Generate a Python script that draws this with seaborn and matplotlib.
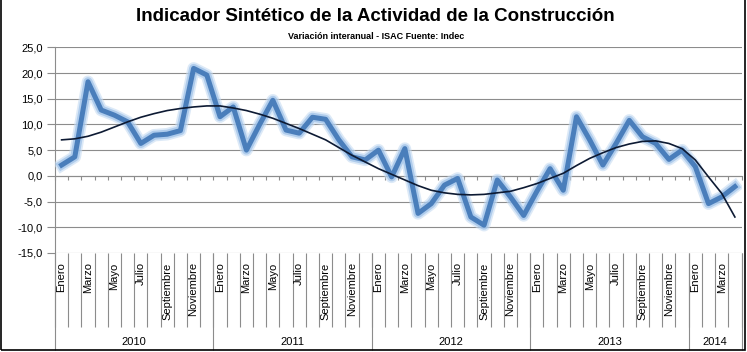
import numpy as np
import pandas as pd
import matplotlib
matplotlib.use('Agg')
import matplotlib.pyplot as plt
import matplotlib.patheffects as pe
import matplotlib.transforms as mtransforms
import seaborn as sb

meses = ['Enero', 'Febrero', 'Marzo', 'Abril', 'Mayo', 'Junio', 'Julio', 'Agosto',
         'Septiembre', 'Octubre', 'Noviembre', 'Diciembre']
anios = ['2010', '2011', '2012', '2013', '2014']
meses_por_anio = [12, 12, 12, 12, 4]

# variacion interanual ISAC (%)
isac = [2.1, 3.7, 18.3, 12.8, 11.8, 10.5, 6.3, 7.9, 8.1, 8.8, 20.9, 19.6,
        11.5, 13.4, 5.0, 10.0, 14.7, 8.9, 8.3, 11.4, 11.0, 7.0, 3.7, 3.1,
        5.0, -0.2, 5.3, -7.3, -5.4, -1.8, -0.5, -8.0, -9.6, -0.8, -4.1, -7.7,
        -3.0, 1.4, -2.8, 11.5, 7.0, 2.1, 6.3, 10.8, 7.6, 6.3, 3.2, 5.0,
        1.8, -5.4, -4.1, -2.1]
# linea de tendencia
tendencia = [7.0, 7.2, 7.7, 8.5, 9.5, 10.5, 11.4, 12.1, 12.7, 13.1, 13.4, 13.6,
             13.6, 13.2, 12.7, 12.0, 11.2, 10.2, 9.2, 8.1, 7.0, 5.5, 4.0, 2.7,
             1.4, 0.3, -0.8, -1.9, -2.8, -3.3, -3.6, -3.7, -3.6, -3.3, -3.0, -2.3,
             -1.5, -0.5, 0.5, 2.0, 3.4, 4.5, 5.5, 6.2, 6.7, 6.8, 6.3, 5.3,
             3.1, -0.2, -3.4, -8.0]

etiquetas = []
for a, n in zip(anios, meses_por_anio):
    etiquetas += meses[:n]
df = pd.DataFrame({'pos': np.arange(len(isac)), 'mes': etiquetas,
                   'isac': isac, 'tend': tendencia})

fig = plt.figure(figsize=(7.47, 3.52), dpi=100)
ax = fig.add_axes([55/747, 1-253/352, (741.5-55)/747, (253-47.3)/352])

linea = sb.lineplot(data=df, x='pos', y='isac', ax=ax, color='#4A7EBB', lw=3.6,
                    solid_joinstyle='round', zorder=3)
linea.lines[0].set_path_effects([pe.Stroke(linewidth=9, foreground='#C5DBF2', alpha=0.6),
                                 pe.Stroke(linewidth=6.5, foreground='#9CC0E8', alpha=0.7),
                                 pe.Normal()])
sb.lineplot(data=df, x='pos', y='tend', ax=ax, color='#0D1A33', lw=1.2, zorder=4)

n = len(isac)
ax.set_xlim(-0.5, n - 0.5)
ax.set_ylim(-15, 25)
ax.set_yticks(np.arange(-15, 26, 5))
ax.set_yticklabels([f'{v:.1f}'.replace('.', ',') for v in np.arange(-15, 26, 5)],
                   fontsize=8, family='Liberation Sans')
ax.yaxis.grid(True, color='#8C8C8C', lw=0.8)
ax.set_axisbelow(True)
ax.tick_params(axis='y', length=6, color='#8C8C8C', pad=3)
ax.set_xlabel('')
ax.set_ylabel('')

for s in ['top', 'right']:
    ax.spines[s].set_visible(False)
ax.spines['left'].set_color('#8C8C8C')
ax.spines['left'].set_linewidth(0.8)
ax.spines['bottom'].set_position(('data', 0))
ax.spines['bottom'].set_color('#8C8C8C')
ax.spines['bottom'].set_linewidth(0.8)
ax.set_xticks(np.arange(-0.5, n, 1.0))
ax.set_xticklabels([])
ax.tick_params(axis='x', length=3, color='#8C8C8C', direction='out')

# eje de categorias multinivel debajo del grafico
trans = mtransforms.blended_transform_factory(ax.transData, ax.transAxes)
ax.vlines(np.arange(-0.5, n, 1.0), -0.358, 0, transform=trans, color='#8C8C8C',
          lw=0.8, clip_on=False)
bordes = np.concatenate([[0], np.cumsum(meses_por_anio)]) - 0.5
ax.vlines(bordes, -0.47, 0, transform=trans, color='#8C8C8C', lw=0.8, clip_on=False)
for i, m in enumerate(etiquetas):
    if i % 2 == 0:
        ax.text(i, -0.045, m, transform=trans, rotation=90, ha='center', va='top',
                fontsize=8, family='Liberation Sans')
for a, b0, b1 in zip(anios, bordes[:-1], bordes[1:]):
    ax.text((b0 + b1) / 2, -0.433, a, transform=trans, ha='center', va='center',
            fontsize=8, family='Liberation Sans')

fig.text(0.503, 0.952, 'Indicador Sintético de la Actividad de la Construcción',
         ha='center', va='center', fontsize=13.5, fontweight='bold',
         family=['Liberation Sans Narrow', 'Liberation Sans'])
fig.text(0.503, 0.897, 'Variación interanual - ISAC Fuente: Indec', ha='center',
         va='center', fontsize=6.5, fontweight='bold',
         family=['Liberation Sans Narrow', 'Liberation Sans'])

fig.patches.append(plt.Rectangle((0.002, 0.006), 0.995, 1.2, transform=fig.transFigure,
                                 fill=False, edgecolor='black', lw=1.2))

fig.savefig('out.png', dpi=100)
